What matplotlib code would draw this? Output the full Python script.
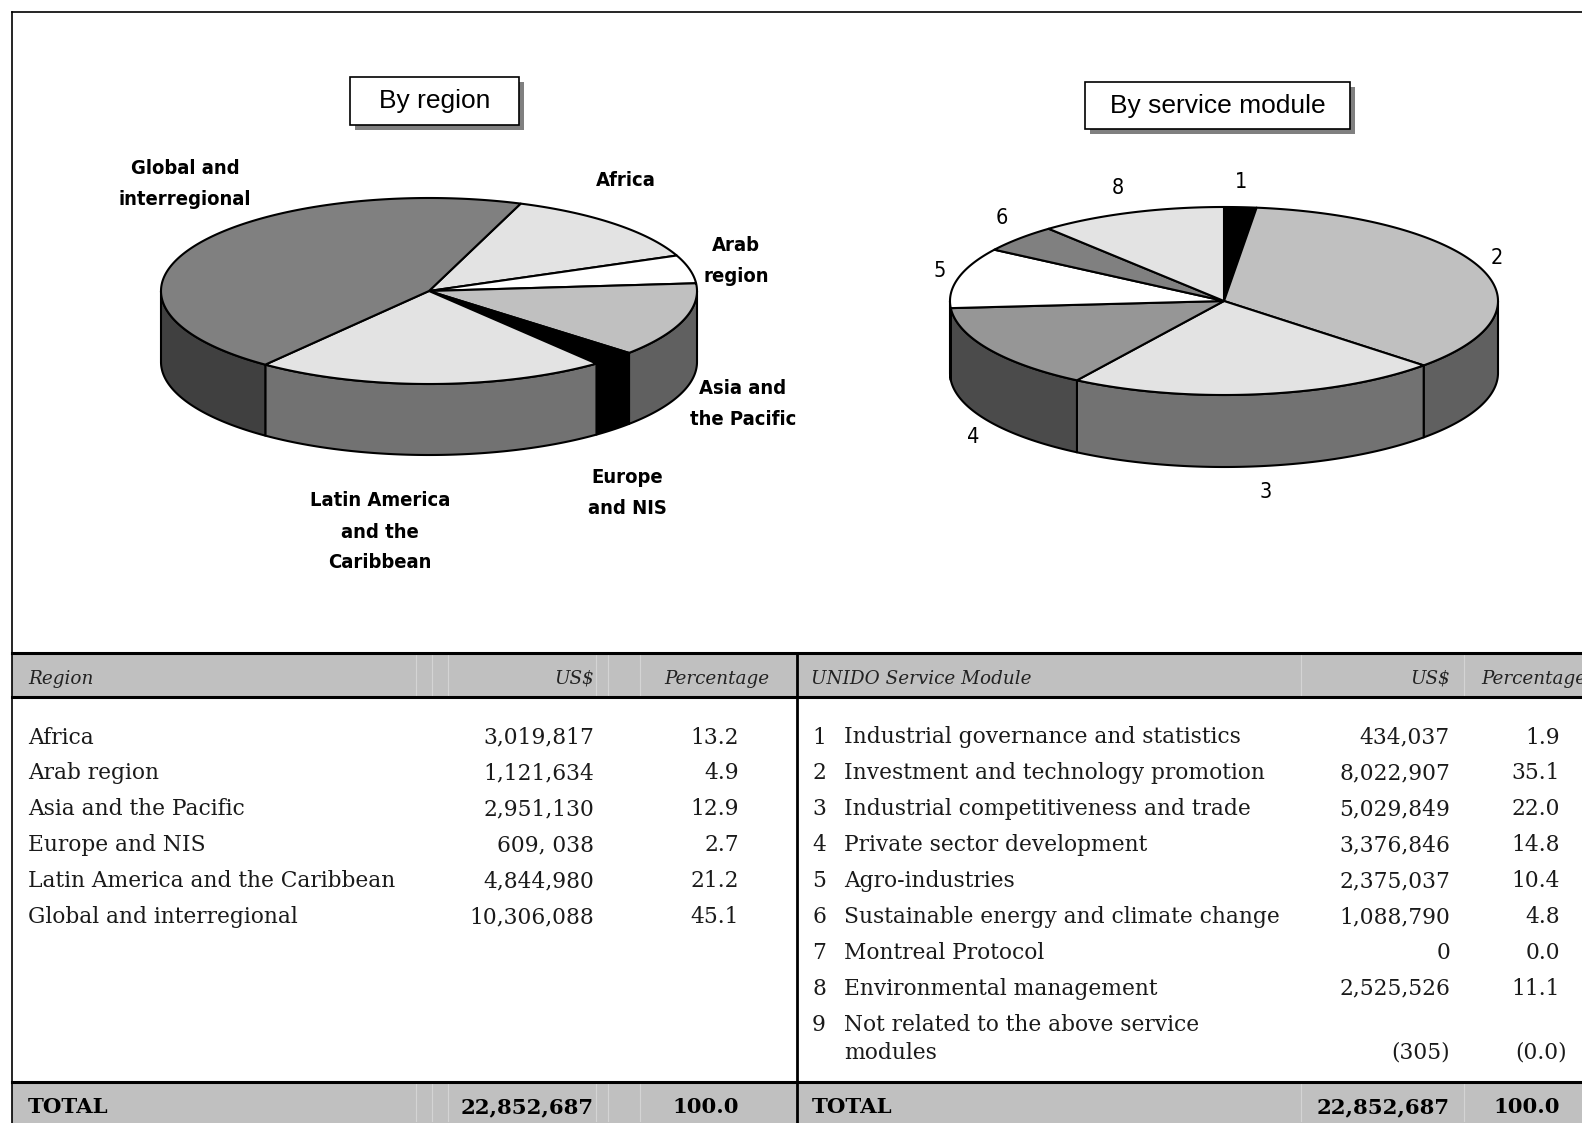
import numpy as np
import matplotlib
matplotlib.use("Agg")
import matplotlib.pyplot as plt
from matplotlib.patches import Polygon, Rectangle

# Technical cooperation delivery, by region and by service module
regions = ["Africa", "Arab region", "Asia and the Pacific", "Europe and NIS",
           "Latin America and the Caribbean", "Global and interregional"]
region_usd = [3019817, 1121634, 2951130, 609038, 4844980, 10306088]
region_usd_text = ["3,019,817", "1,121,634", "2,951,130", "609, 038", "4,844,980", "10,306,088"]
region_pct = [13.2, 4.9, 12.9, 2.7, 21.2, 45.1]
region_pie_labels = ["Africa", "Arab\nregion", "Asia and\nthe Pacific", "Europe\nand NIS",
                     "Latin America\nand the\nCaribbean", "Global and\ninterregional"]

modules = ["Industrial governance and statistics", "Investment and technology promotion",
           "Industrial competitiveness and trade", "Private sector development",
           "Agro-industries", "Sustainable energy and climate change", "Montreal Protocol",
           "Environmental management", "Not related to the above service\nmodules"]
module_usd = [434037, 8022907, 5029849, 3376846, 2375037, 1088790, 0, 2525526, -305]
module_pct = [1.9, 35.1, 22.0, 14.8, 10.4, 4.8, 0.0, 11.1, 0.0]

total_usd = 22852687
total_pct = 100.0

region_colors = ["#e3e3e3", "#ffffff", "#c0c0c0", "#000000", "#e3e3e3", "#808080"]
module_colors = ["#000000", "#c0c0c0", "#e3e3e3", "#969696", "#ffffff", "#808080",
                 "#b0b0b0", "#e3e3e3", "#d0d0d0"]

# label anchor positions (pixels) for the pie slices
region_label_pos = [(626, 180), (736, 261), (743, 404), (627, 493), (380, 532), (185, 184)]
module_label_pos = [(1241, 182), (1497, 258), (1266, 492), (973, 437), (940, 271),
                    (1002, 218), None, (1118, 188), None]

W, H = 1582, 1123
fig = plt.figure(figsize=(W / 100, H / 100), dpi=100)
ax = fig.add_axes([0, 0, 1, 1])
ax.set_xlim(0, W)
ax.set_ylim(H, 0)
ax.axis("off")

LW = 1.5
NARROW = ["Liberation Sans Narrow", "DejaVu Sans"]
SERIF = ["DejaVu Serif"]


def darken(c, f=0.5):
    r, g, b = matplotlib.colors.to_rgb(c)
    return (r * f, g * f, b * f)


def pie3d(values, colors, cx, cy, rx, ry, depth, start):
    vals = np.clip(np.asarray(values, float), 0, None)
    frac = vals / vals.sum()
    edges = start - 360 * np.concatenate([[0], np.cumsum(frac)])

    # side walls, only the front half (sin < 0) is visible
    for i, c in enumerate(colors):
        if frac[i] == 0:
            continue
        a0, a1 = edges[i + 1], edges[i]
        for k in range(-2, 2):
            lo = max(a0, -180 + 360 * k)
            hi = min(a1, 360 * k)
            if hi <= lo:
                continue
            t = np.radians(np.linspace(lo, hi, 120))
            x = cx + rx * np.cos(t)
            y = cy - ry * np.sin(t)
            pts = np.column_stack([np.r_[x, x[::-1]], np.r_[y, y[::-1] + depth]])
            ax.add_patch(Polygon(pts, closed=True, fc=darken(c), ec="black", lw=LW,
                                 joinstyle="round"))

    # top faces
    for i, c in enumerate(colors):
        if frac[i] == 0:
            continue
        t = np.radians(np.linspace(edges[i], edges[i + 1], 200))
        x = np.r_[cx, cx + rx * np.cos(t)]
        y = np.r_[cy, cy - ry * np.sin(t)]
        ax.add_patch(Polygon(np.column_stack([x, y]), closed=True, fc=c, ec="black",
                             lw=LW, joinstyle="round"))


def title_box(text, x0, y0, x1, y1):
    ax.add_patch(Rectangle((x0 + 5, y0 + 5), x1 - x0, y1 - y0, fc="#808080", ec="none"))
    ax.add_patch(Rectangle((x0, y0), x1 - x0, y1 - y0, fc="white", ec="black", lw=1.2))
    ax.text((x0 + x1) / 2, (y0 + y1) / 2, text, ha="center", va="center",
            fontsize=19, family=["Liberation Sans", "DejaVu Sans"])


# outer frame
ax.plot([12, 12], [H, 12], color="black", lw=1.2)
ax.plot([12, W], [12, 12], color="black", lw=1.2)

# pies
pie3d(region_usd, region_colors, 429, 291, 268, 93, 71, 70)
pie3d(module_usd, module_colors, 1224, 301, 274, 94, 72, 90)

for lab, (x, y) in zip(region_pie_labels, region_label_pos):
    ax.text(x, y, lab, ha="center", va="center", fontsize=14.5, fontweight="bold",
            family=NARROW, fontstretch="condensed", linespacing=1.8)
for i, pos in enumerate(module_label_pos):
    if pos is None:
        continue
    ax.text(pos[0], pos[1], str(i + 1), ha="center", va="center", fontsize=15.5,
            family=NARROW, fontstretch="condensed")

title_box("By region", 350, 77, 519, 125)
title_box("By service module", 1085, 82, 1350, 129)

# tables
TOP, HEAD_BOT, TOT_TOP = 653, 697, 1082
DIV = 797
ax.add_patch(Rectangle((12, TOP), W - 12, HEAD_BOT - TOP, fc="#c0c0c0", ec="none"))
ax.add_patch(Rectangle((12, TOT_TOP), W - 12, H - TOT_TOP, fc="#c0c0c0", ec="none"))
for xs in [416, 432, 448, 596, 608, 640, 1301, 1464]:
    for y0, y1 in [(TOP, HEAD_BOT), (TOT_TOP, H)]:
        ax.plot([xs, xs], [y0 + 2, y1 - 2], color="#d4d4d4", lw=0.8)
for y in [TOP, HEAD_BOT, TOT_TOP]:
    ax.plot([12, W], [y, y], color="black", lw=2.2)
ax.plot([DIV, DIV], [TOP, H], color="black", lw=2.0)

FS = 15.7
head_y, tot_y = 677, 1105
row_y = [735 + 35.9 * i for i in range(9)]

hd = dict(fontsize=13.2, family=SERIF, style="italic", va="center_baseline", color="#222222")
ax.text(28, head_y, "Region", ha="left", **hd)
ax.text(594, head_y, "US$", ha="right", **hd)
ax.text(769, head_y, "Percentage", ha="right", **hd)
ax.text(811, head_y, "UNIDO Service Module", ha="left", **hd)
ax.text(1450, head_y, "US$", ha="right", **hd)
ax.text(1481, head_y, "Percentage", ha="left", **hd)

bd = dict(fontsize=FS, family=SERIF, va="center_baseline", color="#1a1a1a")
for i, name in enumerate(regions):
    ax.text(28, row_y[i], name, ha="left", **bd)
    ax.text(594, row_y[i], region_usd_text[i], ha="right", **bd)
    ax.text(739, row_y[i], f"{region_pct[i]:.1f}", ha="right", **bd)

for i, name in enumerate(modules):
    y = row_y[i]
    usd = module_usd[i]
    usd_s = f"({-usd:,})" if usd < 0 else f"{usd:,}"
    pct_s = f"({module_pct[i]:.1f})" if usd < 0 else f"{module_pct[i]:.1f}"
    ax.text(812, y, str(i + 1), ha="left", **bd)
    if "\n" in name:
        first, second = name.split("\n")
        ax.text(844, y, first, ha="left", **bd)
        ax.text(844, y + 28, second, ha="left", **bd)
        ax.text(1450, y + 28, usd_s, ha="right", **bd)
        ax.text(1567, y + 28, pct_s, ha="right", **bd)
    else:
        ax.text(844, y, name, ha="left", **bd)
        ax.text(1450, y, usd_s, ha="right", **bd)
        ax.text(1560, y, pct_s, ha="right", **bd)

tb = dict(fontsize=15.3, family=SERIF, fontweight="bold", va="center_baseline")
ax.text(28, tot_y, "TOTAL", ha="left", **tb)
ax.text(594, tot_y, f"{total_usd:,}", ha="right", **tb)
ax.text(739, tot_y, f"{total_pct:.1f}", ha="right", **tb)
ax.text(812, tot_y, "TOTAL", ha="left", **tb)
ax.text(1450, tot_y, f"{total_usd:,}", ha="right", **tb)
ax.text(1560, tot_y, f"{total_pct:.1f}", ha="right", **tb)

fig.savefig("out.png", dpi=100)
